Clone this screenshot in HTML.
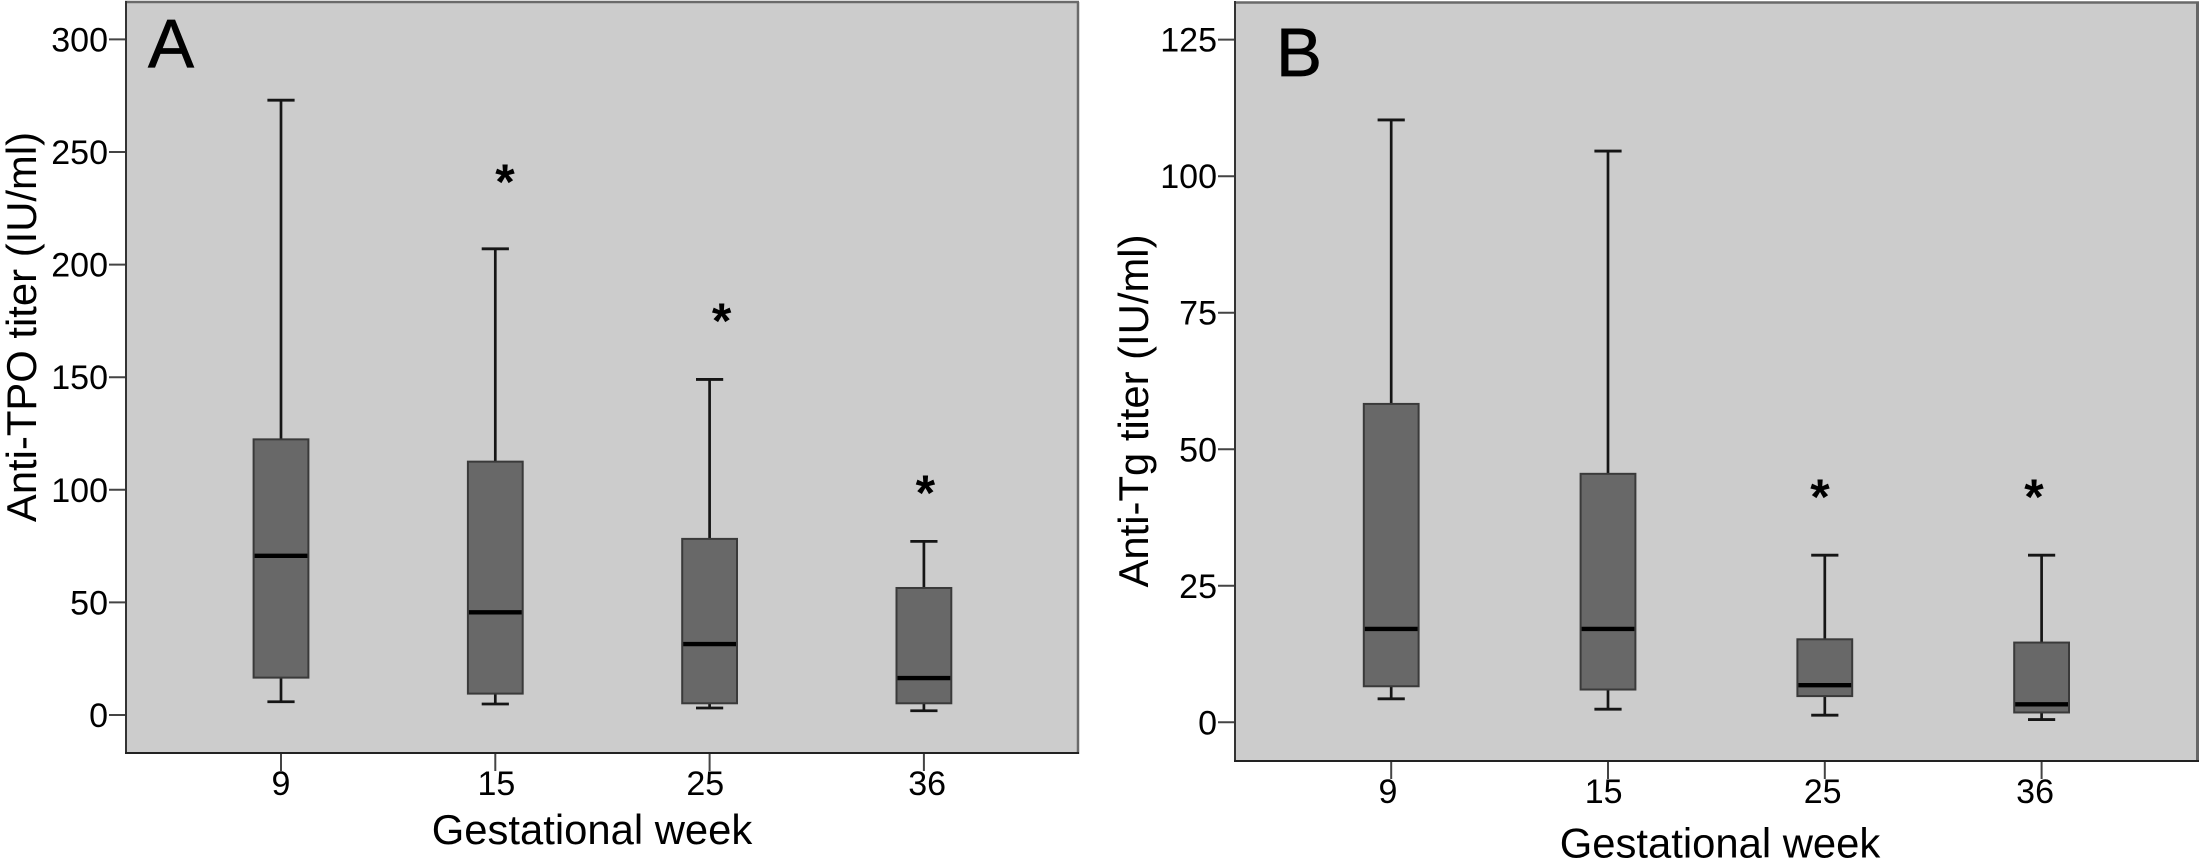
<!DOCTYPE html>
<html lang="en">
<head>
<meta charset="utf-8">
<title>Anti-TPO and Anti-Tg titers by gestational week</title>
<style>
html,body{margin:0;padding:0;background:#fff;width:2199px;height:867px;overflow:hidden}
svg{display:block}
text{font-family:"Liberation Sans",Arial,sans-serif;fill:#000}
.tick{font-size:34px}
.title{font-size:41.8px}
.letter{font-size:69px;stroke:#000;stroke-width:.7px}
.star{font-size:50px;font-weight:bold;text-anchor:middle}
</style>
</head>
<body>
<svg id="figure" xmlns="http://www.w3.org/2000/svg" width="2199" height="867" viewBox="0 0 2199 867">
  <rect x="0" y="0" width="2199" height="867" fill="#fff"/>

  <g id="panelA">
    <rect x="126" y="2" width="952" height="751" fill="#cccccc"/>
    <g id="marksA"></g>
    <line x1="125" y1="2" x2="1079" y2="2" stroke="#6a6a6a" stroke-width="2.5"/>
    <line x1="1078" y1="2" x2="1078" y2="754" stroke="#6a6a6a" stroke-width="2.5"/>
    <line x1="126" y1="1" x2="126" y2="754" stroke="#333" stroke-width="2"/>
    <line x1="125" y1="753" x2="1079" y2="753" stroke="#222" stroke-width="2"/>
    <text class="letter" x="148" y="67.5">A</text>
    <text class="title" x="592" y="844" text-anchor="middle">Gestational week</text>
    <text class="title" transform="translate(36 327) rotate(-90)" text-anchor="middle">Anti-TPO titer (IU/ml)</text>
  </g>

  <g id="panelB">
    <rect x="1235" y="2" width="963" height="759" fill="#cccccc"/>
    <g id="marksB"></g>
    <line x1="1234" y1="2.5" x2="2199" y2="2.5" stroke="#6a6a6a" stroke-width="2.5"/>
    <line x1="2197.5" y1="2" x2="2197.5" y2="762" stroke="#666" stroke-width="3"/>
    <line x1="1235" y1="1" x2="1235" y2="762" stroke="#333" stroke-width="2"/>
    <line x1="1234" y1="761" x2="2199" y2="761" stroke="#222" stroke-width="2"/>
    <text class="letter" x="1276" y="76">B</text>
    <text class="title" x="1720" y="857.5" text-anchor="middle">Gestational week</text>
    <text class="title" transform="translate(1148 411) rotate(-90)" text-anchor="middle">Anti-Tg titer (IU/ml)</text>
  </g>
</svg>

<script>
// Shared category data
const weeks = ['9', '15', '25', '36'];

// Panel A: Anti-TPO titer (IU/ml)
const tpoTicks = [0, 50, 100, 150, 200, 250, 300];
const tpoWhiskerHigh = [273, 207, 149, 77.1];
const tpoQ3 = [122.4, 112.5, 78.2, 56.4];
const tpoMedian = [70.7, 45.6, 31.5, 16.4];
const tpoQ1 = [16.6, 9.5, 5.2, 5.2];
const tpoWhiskerLow = [5.9, 4.9, 3.1, 1.9];
// Significance asterisks: category coordinate and value
const tpoStarCategory = [1.045, 2.056, 3.007];
const tpoStarValue = [239.8, 178, 101.7];
// Where each week label sits on the category scale
const tpoLabelCategory = [0, 1.005, 1.98, 3.015];

// Panel B: Anti-Tg titer (IU/ml)
const tgTicks = [0, 25, 50, 75, 100, 125];
const tgWhiskerHigh = [110.3, 104.6, 30.6, 30.6];
const tgQ3 = [58.3, 45.5, 15.2, 14.6];
const tgMedian = [17.1, 17.1, 6.8, 3.3];
const tgQ1 = [6.6, 6.0, 4.8, 1.8];
const tgWhiskerLow = [4.3, 2.4, 1.3, 0.5];
const tgStarCategory = [1.978, 2.965];
const tgStarValue = [42.5, 42.5];
const tgLabelCategory = [-0.015, 0.98, 1.99, 2.97];

const NS = 'http://www.w3.org/2000/svg';

function add(parent, tag, attrs) {
  const el = document.createElementNS(NS, tag);
  for (const k in attrs) el.setAttribute(k, attrs[k]);
  parent.appendChild(el);
  return el;
}

function drawPanel(p) {
  const g = document.getElementById(p.groupId);
  const y = v => p.y0 - v * p.pxPerUnit;
  const x = c => p.x0 + c * p.band;
  const boxHalf = 27.4;
  const capHalf = 13.6;
  const ink = '#151515';

  p.ticks.forEach(function (t) {
    const mark = add(g, 'line', { x1: p.axisX - 17, x2: p.axisX, y1: y(t), y2: y(t), stroke: '#444', 'stroke-width': 2 });
    
    
    const lab = add(g, 'text', { x: p.axisX - 18, y: y(t) + 12, 'text-anchor': 'end', class: 'tick' });
    
    
    lab.textContent = t;
  });

  weeks.forEach(function (w, i) {
    const cx = x(i);
    const tick = add(g, 'line', { x1: cx, x2: cx, y1: p.axisY, y2: p.axisY + 18, stroke: '#444', 'stroke-width': 2 });
    
    

    const lab = add(g, 'text', { x: x(p.labelCat[i]), y: p.axisY + 42, 'text-anchor': 'middle', class: 'tick' });
    
    
    lab.textContent = w;

    const upper = add(g, 'line', { x1: cx, x2: cx, y1: y(p.hi[i]), y2: y(p.q3[i]), stroke: ink, 'stroke-width': 2.7 });
    
    

    const lower = add(g, 'line', { x1: cx, x2: cx, y1: y(p.q1[i]), y2: y(p.lo[i]), stroke: ink, 'stroke-width': 2.7 });
    
    

    const capHi = add(g, 'line', { x1: cx - capHalf, x2: cx + capHalf, y1: y(p.hi[i]), y2: y(p.hi[i]), stroke: ink, 'stroke-width': 2.8 });
    
    

    const capLo = add(g, 'line', { x1: cx - capHalf, x2: cx + capHalf, y1: y(p.lo[i]), y2: y(p.lo[i]), stroke: ink, 'stroke-width': 2.8 });
    
    

    const box = add(g, 'rect', { x: cx - boxHalf, y: y(p.q3[i]), width: boxHalf * 2, height: y(p.q1[i]) - y(p.q3[i]), fill: '#686868', stroke: '#3a3a3a', 'stroke-width': 2 });
    
    

    const med = add(g, 'line', { x1: cx - boxHalf + 1, x2: cx + boxHalf - 1, y1: y(p.med[i]), y2: y(p.med[i]), stroke: '#000', 'stroke-width': 4.4 });
    
    
  });

  p.starCat.forEach(function (c, i) {
    const s = add(g, 'text', { x: x(c), y: y(p.starVal[i]) + 24, class: 'star' });
    
    
    s.textContent = '*';
  });
}

drawPanel({
  groupId: 'marksA', x0: 281, band: 214.3, y0: 715, pxPerUnit: 2.252, axisX: 126, axisY: 753,
  ticks: tpoTicks, hi: tpoWhiskerHigh, q3: tpoQ3, med: tpoMedian, q1: tpoQ1, lo: tpoWhiskerLow,
  starCat: tpoStarCategory, starVal: tpoStarValue, labelCat: tpoLabelCategory
});
drawPanel({
  groupId: 'marksB', x0: 1391.2, band: 216.8, y0: 722.3, pxPerUnit: 5.461, axisX: 1235, axisY: 761,
  ticks: tgTicks, hi: tgWhiskerHigh, q3: tgQ3, med: tgMedian, q1: tgQ1, lo: tgWhiskerLow,
  starCat: tgStarCategory, starVal: tgStarValue, labelCat: tgLabelCategory
});
</script>
</body>
</html>
